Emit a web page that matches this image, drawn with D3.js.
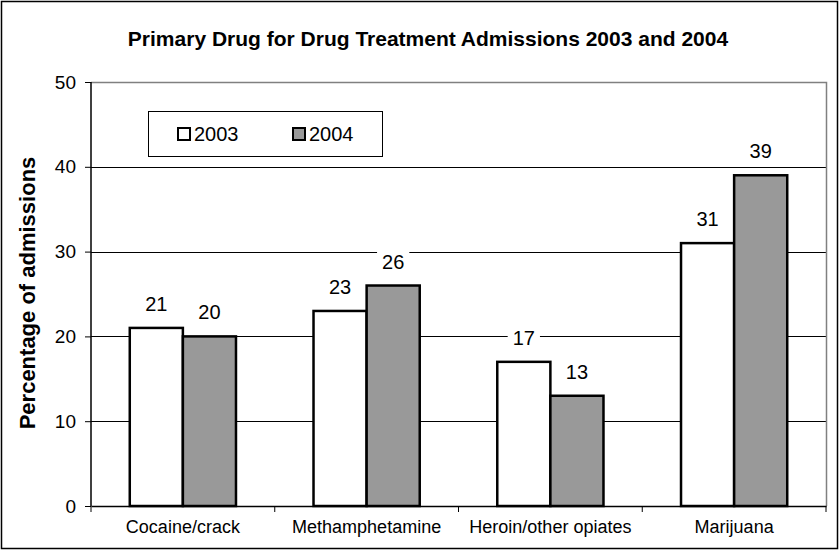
<!DOCTYPE html>
<html><head><meta charset="utf-8">
<script src="https://cdn.jsdelivr.net/npm/d3@7"></script>
<style>body{margin:0;background:#fff}svg{display:block;font-family:"Liberation Sans",Arial,sans-serif}</style>
</head><body><svg id="c" width="839" height="550"></svg>
<script>
const categories = ["Cocaine/crack","Methamphetamine","Heroin/other opiates","Marijuana"];
const seriesNames = ["2003","2004"];
const values2003 = [21,23,17,31];
const values2004 = [20,26,13,39];
const yTicks = [0,10,20,30,40,50];
const colors = ["#ffffff","#999999"];

const svg = d3.select("#c");
const m = {l:91,t:82,r:826,b:506};
svg.append("rect").attr("x",1.5).attr("y",1.5).attr("width",836).attr("height",547).attr("fill","#fff").attr("stroke","#000").attr("stroke-width",1.5);

const x0 = d3.scaleBand().domain(categories).range([m.l,m.r]).paddingInner(0).paddingOuter(0);
const x1 = d3.scaleBand().domain(seriesNames).range([0,x0.bandwidth()]).paddingInner(0).paddingOuter(0.73);
const y = d3.scaleLinear().domain([0,50]).range([m.b,m.t]);

// grid
svg.append("g").selectAll("line").data(yTicks.filter(d=>d>0&&d<50)).join("line")
  .attr("x1",m.l).attr("x2",m.r).attr("y1",d=>Math.round(y(d))+0.5).attr("y2",d=>Math.round(y(d))+0.5)
  .attr("stroke","#000").attr("stroke-width",1);
// top & right border gray
svg.append("path").attr("d",`M${m.l},${m.t+0.5}H${m.r+0.5}V${m.b}`).attr("fill","none").attr("stroke","#808080").attr("stroke-width",1.5);

// bars
const data = categories.map((c,i)=>({cat:c, vals:[values2003[i],values2004[i]]}));
const g = svg.append("g");
data.forEach(d=>{
  d.vals.forEach((v,j)=>{
    const s = seriesNames[j];
    g.append("rect").attr("x",x0(d.cat)+x1(s)).attr("y",y(v)).attr("width",x1.bandwidth()).attr("height",y(0)-y(v))
      .attr("fill",colors[j]).attr("stroke","#000").attr("stroke-width",2.5);
  });
});
// labels
data.forEach(d=>{
  d.vals.forEach((v,j)=>{
    const s = seriesNames[j];
    const cx = x0(d.cat)+x1(s)+x1.bandwidth()/2;
    const t = svg.append("text").attr("x",cx).attr("y",y(v)-17).attr("text-anchor","middle").attr("font-size",20).attr("fill","#000").text(v);
    const bb = t.node().getBBox();
    svg.insert("rect","text").attr("x",bb.x-5).attr("y",bb.y).attr("width",bb.width+10).attr("height",bb.height).attr("fill","#fff");
  });
});
svg.selectAll("text").raise();

// y axis
const ya = svg.append("g").attr("transform",`translate(${m.l},0)`)
  .call(d3.axisLeft(y).tickValues(yTicks).tickSize(6).tickPadding(9));
ya.select(".domain").attr("stroke","#000").attr("stroke-width",1.5).attr("d",`M0,${m.t}V${m.b}`);
ya.selectAll(".tick line").attr("stroke","#000");
ya.selectAll("text").attr("font-size",19).attr("font-family","Liberation Sans, Arial, sans-serif").attr("fill","#000");

// x axis
const xa = svg.append("g").attr("transform",`translate(0,${m.b})`).call(d3.axisBottom(x0).tickSize(0).tickPadding(14));
xa.select(".domain").attr("stroke","#000").attr("stroke-width",1.5);
xa.selectAll("text").attr("font-size",18).attr("font-family","Liberation Sans, Arial, sans-serif").attr("fill","#000");
// category separator ticks
svg.append("g").selectAll("line").data(categories).join("line")
  .attr("x1",d=>x0(d)+x0.bandwidth()).attr("x2",d=>x0(d)+x0.bandwidth())
  .attr("y1",m.b).attr("y2",m.b+6).attr("stroke","#000").attr("stroke-width",1);
svg.append("line").attr("x1",m.l).attr("x2",m.l).attr("y1",m.b).attr("y2",m.b+6).attr("stroke","#000");

// title
svg.append("text").attr("x",428).attr("y",46).attr("text-anchor","middle").attr("font-size",21).attr("font-weight","bold")
  .text("Primary Drug for Drug Treatment Admissions 2003 and 2004");
// y label
svg.append("text").attr("transform","translate(35,293) rotate(-90)").attr("text-anchor","middle").attr("font-size",22).attr("font-weight","bold")
  .text("Percentage of admissions");

// legend
const lg = svg.append("g");
lg.append("rect").attr("x",148.5).attr("y",111.5).attr("width",234).attr("height",45).attr("fill","#fff").attr("stroke","#000").attr("stroke-width",1);
const lx = [177,292];
seriesNames.forEach((s,i)=>{
  lg.append("rect").attr("x",lx[i]+1).attr("y",128).attr("width",12).attr("height",12).attr("fill",colors[i]).attr("stroke","#000").attr("stroke-width",2);
  lg.append("text").attr("x",lx[i]+17).attr("y",141).attr("font-size",20).text(s);
});
</script></body></html>
